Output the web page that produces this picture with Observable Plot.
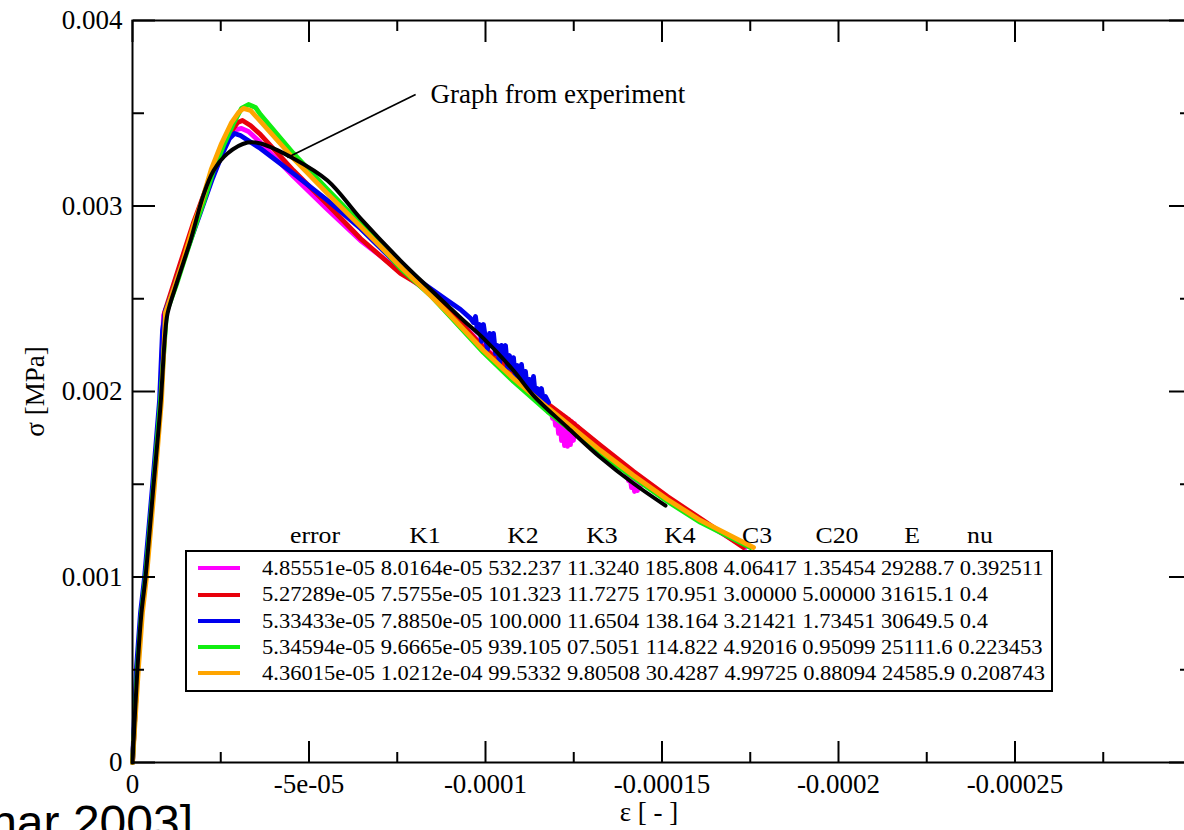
<!DOCTYPE html>
<html><head><meta charset="utf-8">
<script src="https://cdn.jsdelivr.net/npm/d3@7"></script>
<script src="https://cdn.jsdelivr.net/npm/@observablehq/plot@0.6"></script>
<style>
html,body{margin:0;padding:0;background:#fff;overflow:hidden;}
#wrap{position:relative;width:1184px;height:830px;overflow:hidden;background:#fff;}
#chart svg{display:block;}
.box{position:absolute;left:185px;top:550px;width:868px;height:142px;border:2px solid #000;box-sizing:border-box;background:#fff;}
.hdr{position:absolute;font-family:"Liberation Serif";font-size:23px;line-height:23px;white-space:nowrap;color:#000;transform:translateX(-50%) scaleX(1.12);}
.row{position:absolute;left:262px;font-family:"Liberation Serif";font-size:20px;line-height:20px;white-space:pre;color:#000;transform-origin:left center;transform:scaleX(1.125);}
.sw{position:absolute;left:198px;width:42px;height:4px;}
#cap{position:absolute;right:991px;top:799px;font-family:"Liberation Sans";font-size:48px;line-height:48px;white-space:nowrap;color:#000;}
</style>
</head><body>
<div id="wrap"><div id="chart"></div><div id="legend"></div><div id="cap"></div></div>
<script>
// ---- data (strain in units of 1e-5, stress in units of 1e-3 MPa) ----
const strainUnit = 1e-5, stressUnit = 1e-3;

const experiment = [[0,0],[-0.142,0.512],[-0.255,0.809],[-0.368,0.997],[-0.595,1.493],[-0.793,1.925],[-0.920,2.300],[-0.992,2.420],[-1.275,2.598],[-1.643,2.814],[-2.011,3.060],[-2.295,3.190],[-2.691,3.283],[-3.258,3.342],[-3.626,3.337],[-4.561,3.256],[-5.524,3.137],[-6.459,2.933],[-7.592,2.706],[-8.442,2.550],[-9.377,2.383],[-9.943,2.286],[-10.793,2.113],[-11.360,1.978],[-12.323,1.806],[-13.258,1.644],[-14.193,1.504],[-15.099,1.385]];

const fitMagenta = [[0,0],[-0.142,0.512],[-0.255,0.809],[-0.368,0.997],[-0.595,1.493],[-0.793,1.951],[-0.878,2.410],[-1.076,2.507],[-1.303,2.631],[-1.643,2.825],[-1.926,2.981],[-2.266,3.170],[-2.550,3.299],[-2.776,3.380],[-2.946,3.412],[-3.088,3.418],[-3.286,3.402],[-3.626,3.342],[-4.561,3.159],[-5.524,2.981],[-6.459,2.814],[-7.592,2.647],[-8.442,2.528],[-9.377,2.356],[-9.943,2.243],[-10.793,2.097],[-11.756,1.930],
 [-11.841,1.914],[-11.898,1.855],[-11.926,1.903],[-11.983,1.817],[-12.011,1.892],[-12.068,1.774],[-12.096,1.881],[-12.153,1.736],[-12.181,1.871],[-12.238,1.709],[-12.266,1.860],[-12.323,1.704],[-12.351,1.849],[-12.408,1.714],[-12.436,1.838],[-12.493,1.736],[-12.521,1.827],[-12.578,1.763],[-12.606,1.811],[-12.663,1.790],[-12.720,1.784],
 [-13.258,1.698],[-13.994,1.574],
 [-14.051,1.520],[-14.079,1.563],[-14.136,1.482],[-14.164,1.553],[-14.221,1.461],[-14.249,1.542],[-14.306,1.466],[-14.334,1.531],[-14.391,1.488],[-14.419,1.520],[-14.476,1.509],
 [-15.156,1.418],[-16.091,1.305],[-17.365,1.159]];

const fitRed = [[0,0],[-0.142,0.512],[-0.255,0.809],[-0.368,0.997],[-0.595,1.493],[-0.793,1.951],[-0.907,2.426],[-1.161,2.577],[-1.360,2.695],[-1.728,2.911],[-1.926,3.013],[-2.210,3.159],[-2.493,3.288],[-2.776,3.396],[-2.975,3.450],[-3.116,3.461],[-3.343,3.434],[-3.626,3.385],[-4.561,3.191],[-5.524,3.008],[-6.459,2.825],[-7.592,2.636],[-8.442,2.539],[-8.924,2.447],[-9.943,2.237],[-10.793,2.092],[-11.756,1.935],[-12.323,1.854],[-13.258,1.709],[-14.193,1.569],[-15.156,1.434],[-16.091,1.315],[-17.309,1.159]];

const fitBlue = [[0,0],[-0.113,0.512],[-0.227,0.809],[-0.340,0.997],[-0.567,1.493],[-0.765,1.951],[-0.850,2.329],[-0.935,2.437],[-1.133,2.534],[-1.360,2.663],[-1.643,2.814],[-1.926,2.965],[-2.266,3.148],[-2.550,3.283],[-2.748,3.364],[-2.890,3.391],[-3.059,3.380],[-3.626,3.310],[-4.561,3.175],[-5.524,3.030],[-6.459,2.879],[-7.592,2.668],[-8.442,2.555],[-8.924,2.491],[-9.292,2.442],[-9.575,2.394],
 [-9.660,2.372],[-9.717,2.404],[-9.773,2.323],[-9.830,2.361],[-9.887,2.270],[-9.943,2.361],[-10.000,2.286],[-10.057,2.226],[-10.113,2.313],[-10.170,2.248],[-10.227,2.313],[-10.283,2.205],[-10.340,2.248],[-10.397,2.146],[-10.453,2.248],[-10.510,2.189],[-10.567,2.248],[-10.623,2.129],[-10.680,2.194],[-10.737,2.119],[-10.793,2.183],[-10.850,2.059],[-10.907,2.140],[-10.963,2.092],[-11.020,2.146],[-11.076,2.049],[-11.133,2.108],[-11.190,2.000],[-11.246,2.065],[-11.303,2.011],[-11.360,2.081],[-11.416,1.973],[-11.473,2.016],[-11.530,1.962],[-11.586,2.016],[-11.643,1.946],[-11.700,1.973],[-11.785,1.941]];

const fitGreen = [[0,0],[-0.142,0.512],[-0.255,0.809],[-0.368,0.997],[-0.595,1.493],[-0.793,1.951],[-0.963,2.426],[-1.246,2.577],[-1.445,2.695],[-1.813,2.911],[-2.011,3.019],[-2.295,3.191],[-2.578,3.326],[-2.861,3.445],[-3.088,3.526],[-3.286,3.547],[-3.484,3.531],[-3.626,3.493],[-4.561,3.283],[-5.524,3.089],[-6.459,2.906],[-7.592,2.663],[-8.442,2.518],[-8.924,2.420],[-9.943,2.210],[-10.793,2.054],[-11.756,1.892],[-12.323,1.806],[-13.258,1.666],[-14.193,1.536],[-15.156,1.407],[-16.091,1.294],[-17.507,1.159]];

const fitOrange = [[0,0],[-0.170,0.512],[-0.283,0.809],[-0.397,0.997],[-0.623,1.493],[-0.822,1.951],[-0.935,2.426],[-1.218,2.582],[-1.416,2.695],[-1.756,2.911],[-1.955,3.019],[-2.238,3.202],[-2.521,3.337],[-2.805,3.450],[-3.003,3.504],[-3.144,3.526],[-3.343,3.515],[-3.626,3.456],[-4.561,3.256],[-5.524,3.067],[-6.459,2.890],[-7.592,2.674],[-8.442,2.518],[-8.924,2.426],[-9.943,2.221],[-10.793,2.070],[-11.756,1.914],[-12.323,1.827],[-13.258,1.682],[-14.193,1.547],[-15.156,1.418],[-16.091,1.305],[-17.592,1.159]];

// legend table
const legendHeaders = ["error","K1","K2","K3","K4","C3","C20","E","nu"];
const legendRows = [
 ["4.85551e-05","8.0164e-05","532.237","11.3240","185.808","4.06417","1.35454","29288.7","0.392511"],
 ["5.27289e-05","7.5755e-05","101.323","11.7275","170.951","3.00000","5.00000","31615.1","0.4"],
 ["5.33433e-05","7.8850e-05","100.000","11.6504","138.164","3.21421","1.73451","30649.5","0.4"],
 ["5.34594e-05","9.6665e-05","939.105","07.5051","114.822","4.92016","0.95099","25111.6","0.223453"],
 ["4.36015e-05","1.0212e-04","99.5332","9.80508","30.4287","4.99725","0.88094","24585.9","0.208743"]
];
const fitColors = ["#ff00ff","#e8000b","#0000ee","#11ee11","#ffa500"];
const fitSeries = [fitMagenta, fitRed, fitBlue, fitGreen, fitOrange];

// axis ticks
const xMajor = [0,-5e-5,-10e-5,-15e-5,-20e-5,-25e-5,-30e-5];
const xTickLabels = ["0","-5e-05","-0.0001","-0.00015","-0.0002","-0.00025"];
const xMinor = [-2.5e-5,-7.5e-5,-12.5e-5,-17.5e-5,-22.5e-5,-27.5e-5];
const yMajor = [0,0.001,0.002,0.003,0.004];
const yTickLabels = ["0","0.001","0.002","0.003","0.004"];
const yMinor = [0.0005,0.0015,0.0025,0.0035];
const xLabel = "ε [ - ]";
const yLabel = "σ [MPa]";

const annotationText = "Graph from experiment";
const annotationTextAt = [-8.44, 3.604];
const annotationFrom = [-8.02, 3.601];
const annotationTo = [-4.39, 3.261];
const sourceCaption = "[Seminar 2003]";

// ---- layout ----
const W = 1184, H = 830, mL = 132, mR = -7, mT = 20, mB = 68;
const frameW = W - mL - mR, frameH = H - mT - mB;

// ---- build ----
const toRows = pts => pts.map(([e, s]) => ({strain: e * strainUnit, stress: s * stressUnit}));
const xLab = new Map(xTickLabels.map((t, i) => [xMajor[i], t]));
const yLab = new Map(yMajor.map((v, i) => [v, yTickLabels[i]]));

const serif = "Liberation Serif";
const tk = {fill: "none", strokeWidth: 2, label: null};
const marks = [];
fitSeries.forEach((pts, i) => {
  marks.push(Plot.line(toRows(pts), {x: "strain", y: "stress", stroke: fitColors[i], strokeWidth: 4.8, strokeLinejoin: "round", strokeLinecap: "round"}));
});
marks.push(Plot.line(toRows(experiment), {x: "strain", y: "stress", curve: "catmull-rom", stroke: "#000", strokeWidth: 4, strokeLinejoin: "round", strokeLinecap: "round"}));
marks.push(Plot.link([{a: annotationFrom, b: annotationTo}], {
  x1: d => d.a[0] * strainUnit, y1: d => d.a[1] * stressUnit,
  x2: d => d.b[0] * strainUnit, y2: d => d.b[1] * stressUnit,
  stroke: "#000", strokeWidth: 1.7}));
marks.push(Plot.text([annotationText], {
  x: () => annotationTextAt[0] * strainUnit, y: () => annotationTextAt[1] * stressUnit,
  text: d => d, textAnchor: "start", lineAnchor: "middle", fontSize: 27, fontFamily: serif, fill: "#000"}));
// inward ticks: an axis anchored on the opposite side, shifted across the frame
marks.push(
  Plot.axisX(xMinor, {anchor: "top", tickSize: 11, dy: frameH, ...tk}),
  Plot.axisX(xMajor, {anchor: "top", tickSize: 22, dy: frameH, ...tk}),
  Plot.axisX(xMinor, {anchor: "bottom", tickSize: 11, dy: -frameH, ...tk}),
  Plot.axisX(xMajor, {anchor: "bottom", tickSize: 22, dy: -frameH, ...tk}),
  Plot.axisY(yMinor, {anchor: "right", tickSize: 11, dx: -frameW, ...tk}),
  Plot.axisY(yMajor, {anchor: "right", tickSize: 22, dx: -frameW, ...tk}),
  Plot.axisY(yMinor, {anchor: "left", tickSize: 11, dx: frameW, ...tk}),
  Plot.axisY(yMajor, {anchor: "left", tickSize: 22, dx: frameW, ...tk}),
  Plot.axisX([...xLab.keys()], {anchor: "bottom", tickSize: 0, tickPadding: 11, tickFormat: d => xLab.get(d), fontSize: 27, fontFamily: serif, label: null, fill: "#000"}),
  Plot.axisY(yMajor, {anchor: "left", tickSize: 0, tickPadding: 10, tickFormat: d => yLab.get(d), fontSize: 27, fontFamily: serif, label: null, fill: "#000"}),
  Plot.frame({stroke: "#000", strokeWidth: 2}),
  Plot.text([yLabel], {text: d => d, frameAnchor: "left", dx: -97, rotate: -90, textAnchor: "middle", lineAnchor: "middle", fontSize: 27, fontFamily: serif, fill: "#000"}),
  Plot.text([xLabel], {text: d => d, frameAnchor: "bottom", dx: -13, dy: 50, textAnchor: "middle", lineAnchor: "middle", fontSize: 27, fontFamily: serif, fill: "#000"})
);

const chart = Plot.plot({
  width: W, height: H,
  marginLeft: mL, marginRight: mR, marginTop: mT, marginBottom: mB,
  x: {domain: [0, -3e-4], label: null},
  y: {domain: [0, 0.004], label: null},
  style: {fontFamily: serif, fontSize: "27px", background: "#fff", color: "#000", overflow: "hidden"},
  marks
});
document.getElementById("chart").appendChild(chart);

// ---- legend (HTML overlay) ----
const hdrCenters = [315, 425, 523, 602, 680, 757, 837, 912, 980];
const rowCenters = [568, 594.5, 621, 647, 673];
const lg = document.getElementById("legend");
const box = document.createElement("div"); box.className = "box"; lg.appendChild(box);
legendHeaders.forEach((h, i) => {
  const el = document.createElement("div"); el.className = "hdr"; el.textContent = h;
  el.style.left = hdrCenters[i] + "px"; el.style.top = (543 - 19.3) + "px"; lg.appendChild(el);
});
legendRows.forEach((r, i) => {
  const sw = document.createElement("div"); sw.className = "sw";
  sw.style.background = fitColors[i]; sw.style.top = (rowCenters[i] - 2) + "px"; lg.appendChild(sw);
  const el = document.createElement("div"); el.className = "row"; el.textContent = r.join(" ");
  el.style.top = (rowCenters[i] + 6.6 - 16.75) + "px"; lg.appendChild(el);
});
document.getElementById("cap").textContent = sourceCaption;
</script>
</body></html>
